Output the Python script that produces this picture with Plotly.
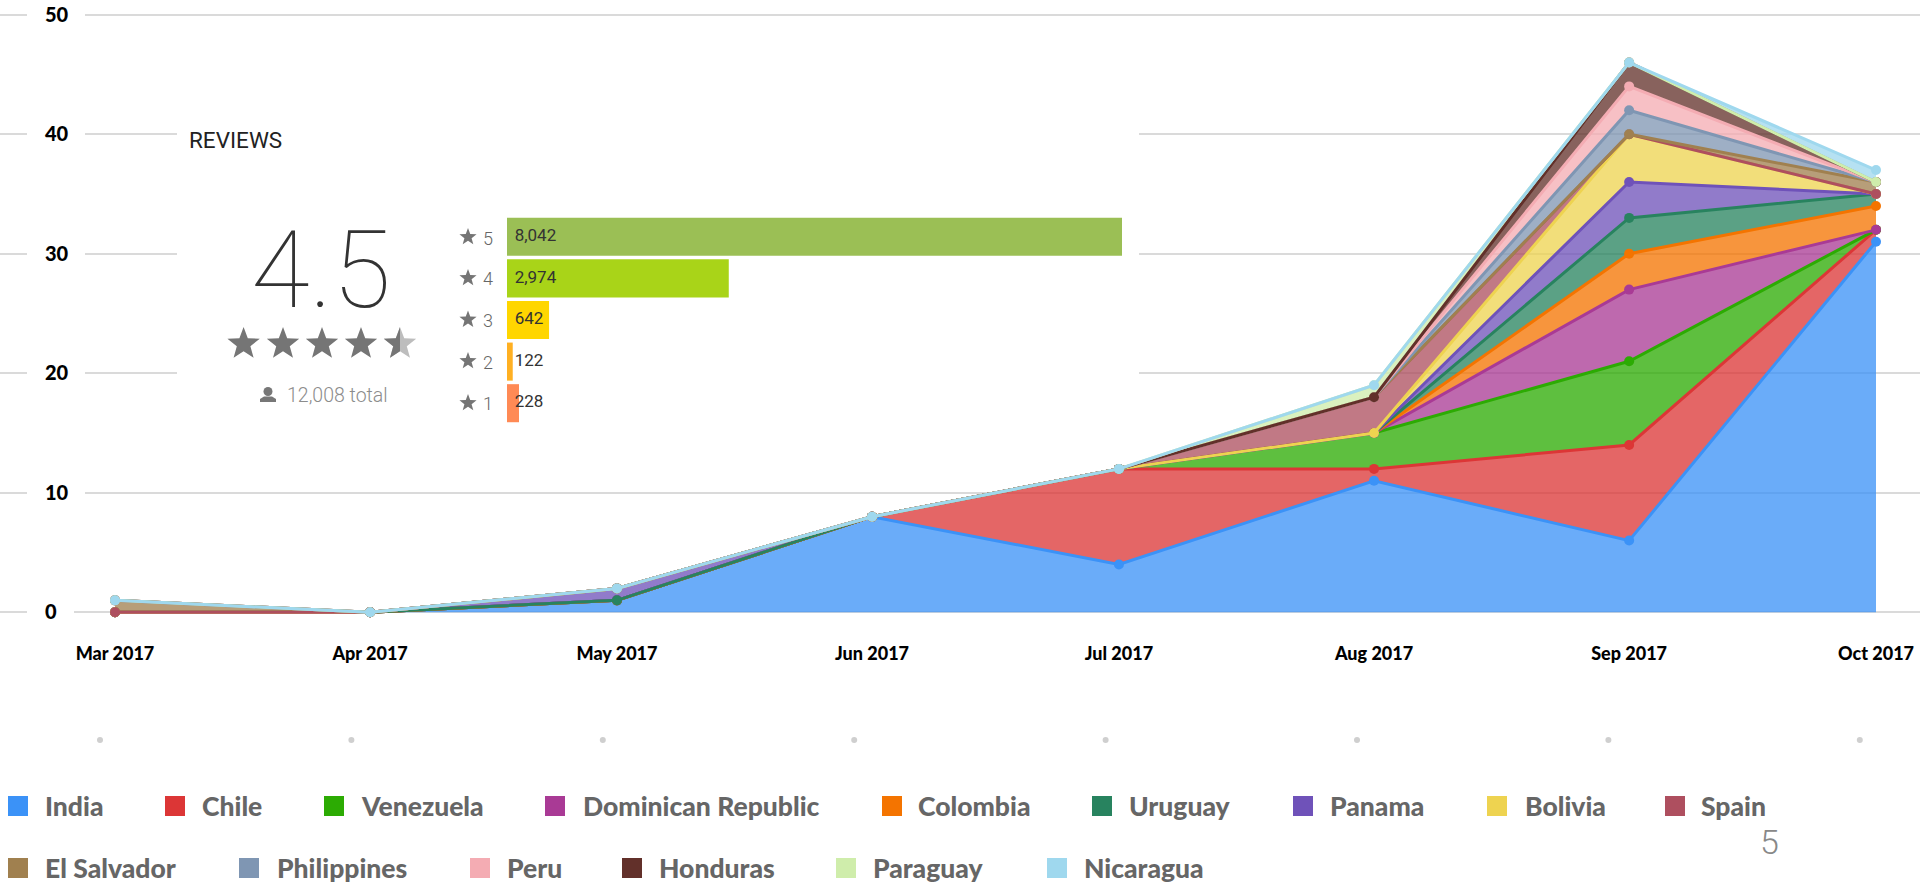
import math
import pandas as pd
import plotly.graph_objects as go

# ---------- chart data ----------
months = ["2017-03-01", "2017-04-01", "2017-05-01", "2017-06-01",
          "2017-07-01", "2017-08-01", "2017-09-01", "2017-10-01"]
month_labels = ["Mar 2017", "Apr 2017", "May 2017", "Jun 2017",
                "Jul 2017", "Aug 2017", "Sep 2017", "Oct 2017"]
y_ticks = [0, 10, 20, 30, 40, 50]

india = [0, 0, 1, 8, 4, 11, 6, 31]
chile = [0, 0, 0, 0, 8, 1, 8, 1]
venezuela = [0, 0, 0, 0, 0, 3, 7, 0]
dominican = [0, 0, 0, 0, 0, 0, 6, 0]
colombia = [0, 0, 0, 0, 0, 0, 3, 2]
uruguay = [0, 0, 0, 0, 0, 0, 3, 1]
panama = [0, 0, 1, 0, 0, 0, 3, 0]
bolivia = [0, 0, 0, 0, 0, 0, 4, 0]
spain = [0, 0, 0, 0, 0, 3, 0, 0]
el_salvador = [1, 0, 0, 0, 0, 0, 0, 1]
philippines = [0, 0, 0, 0, 0, 0, 2, 0]
peru = [0, 0, 0, 0, 0, 0, 2, 0]
honduras = [0, 0, 0, 0, 0, 0, 2, 0]
paraguay = [0, 0, 0, 0, 0, 1, 0, 0]
nicaragua = [0, 0, 0, 0, 0, 0, 0, 1]

series_names = ["India", "Chile", "Venezuela", "Dominican Republic", "Colombia", "Uruguay",
                "Panama", "Bolivia", "Spain", "El Salvador", "Philippines", "Peru",
                "Honduras", "Paraguay", "Nicaragua"]
series_values = [india, chile, venezuela, dominican, colombia, uruguay, panama, bolivia,
                 spain, el_salvador, philippines, peru, honduras, paraguay, nicaragua]
series_colors = ["#3B92F7", "#DC3636", "#2CAB03", "#A93A95", "#F47400", "#28835F", "#6F52B9",
                 "#EED350", "#AE4F5F", "#A0804F", "#7F96B3", "#F4ACB3", "#62302A", "#CFEDAB",
                 "#9FD8EE"]

# review card data
review_rows = ["5", "4", "3", "2", "1"]
review_counts = ["8,042", "2,974", "642", "122", "228"]
review_bar_lengths = [8042, 2900, 550, 75, 157]   # as drawn in the picture
review_bar_colors = ["#9BBF55", "#A9D418", "#FFD600", "#FFB022", "#FF8A55"]
pager_dots = [0, 1, 2, 3, 4, 5, 6, 7]

# ---------- layout constants (pixels in the 1920x890 page) ----------
W, H = 1920, 890
PX_MAR, PX_OCT = 115.0, 1876.0
Y0_PX, Y50_PX = 612.3, 14.7
PX_PER_UNIT = (Y0_PX - Y50_PX) / 50
PX_PER_DAY = (PX_OCT - PX_MAR) / 214.0
BASE = pd.Timestamp("2017-03-01")


def date_at(px):
    return (BASE + pd.Timedelta(days=(px - PX_MAR) / PX_PER_DAY)).strftime("%Y-%m-%d %H:%M:%S")


def val_at(py):
    return (Y0_PX - py) / PX_PER_UNIT


def fx(px):
    return px / W


def fy(py):
    return 1 - py / H


def rgba(hex_color, a):
    r, g, b = (int(hex_color[i:i + 2], 16) for i in (1, 3, 5))
    return f"rgba({r},{g},{b},{a})"


def star_points(cx, cy, r):
    pts = []
    for i in range(10):
        rad = r if i % 2 == 0 else r * 0.42
        ang = -math.pi / 2 + i * math.pi / 5
        pts.append((cx + rad * math.cos(ang), cy + rad * math.sin(ang)))
    return pts


def path_of(pts):
    return "M" + " L".join(f"{fx(x):.5f},{fy(y):.5f}" for x, y in pts) + " Z"


fig = go.Figure()

for name, vals, col in zip(series_names, series_values, series_colors):
    fig.add_trace(go.Scatter(
        x=months, y=vals, name=name, stackgroup="one", mode="lines+markers",
        line=dict(color=col, width=3), marker=dict(color=col, size=10),
        fillcolor=rgba(col, 0.76), cliponaxis=False, showlegend=False,
    ))

# review bars
fig.add_trace(go.Bar(
    x=review_bar_lengths, y=review_rows, orientation="h", xaxis="x2", yaxis="y2",
    marker=dict(color=review_bar_colors, line=dict(width=0)), showlegend=False,
))
fig.add_trace(go.Scatter(
    x=[100] * 5, y=review_rows, text=review_counts, mode="text", textposition="middle right",
    xaxis="x2", yaxis="y2", cliponaxis=False, showlegend=False,
    textfont=dict(family="Roboto", size=17, color="#333333"),
))
# pager dots
fig.add_trace(go.Scatter(
    x=pager_dots, y=[0] * 8, mode="markers", xaxis="x3", yaxis="y3", showlegend=False,
    marker=dict(color="#CFCFCF", size=6),
))

shapes = []
# white card and tick-label backings, over the grid but under the marks
shapes.append(dict(type="rect", layer="between", xref="x", yref="y",
                   x0=date_at(177), x1=date_at(1139), y0=val_at(430), y1=val_at(118),
                   fillcolor="white", line=dict(width=0)))
for t in y_ticks:
    right = 74 if t == 0 else 85
    shapes.append(dict(type="rect", layer="between", xref="x", yref="y",
                       x0=date_at(27), x1=date_at(right), y0=t - 0.4, y1=t + 0.4,
                       fillcolor="white", line=dict(width=0)))

# big rating stars
for i, cx in enumerate([243.6, 283, 322, 361, 400]):
    pts = star_points(cx, 344, 17)
    shapes.append(dict(type="path", xref="paper", yref="paper", path=path_of(pts),
                       fillcolor="#757575" if i < 4 else "#BDBDBD", line=dict(width=0)))
    if i == 4:
        half = [pts[0]] + pts[5:10]
        shapes.append(dict(type="path", xref="paper", yref="paper", path=path_of(half),
                           fillcolor="#757575", line=dict(width=0)))

# small row stars
for cy in [237, 278, 319.6, 361, 403]:
    shapes.append(dict(type="path", xref="paper", yref="paper",
                       path=path_of(star_points(468, cy, 9)),
                       fillcolor="#757575", line=dict(width=0)))

# person icon
shapes.append(dict(type="circle", xref="paper", yref="paper", x0=fx(263.5), x1=fx(272.5),
                   y0=fy(396), y1=fy(387), fillcolor="#777777", line=dict(width=0)))
shapes.append(dict(type="path", xref="paper", yref="paper",
                   path=path_of([(260, 402), (260, 399), (264, 396.5), (272, 396.5),
                                 (276, 399), (276, 402)]),
                   fillcolor="#777777", line=dict(width=0)))

annotations = []


def note(text, px, py, size, color, family="Roboto", weight=400, anchor="left"):
    annotations.append(dict(text=text, x=fx(px), y=fy(py), xref="paper", yref="paper",
                            showarrow=False, xanchor=anchor, yanchor="middle",
                            font=dict(family=family, size=size, color=color, weight=weight)))


note("REVIEWS", 187, 139.6, 22.5, "#222222")
note("4.5", 321, 270, 107, "#333333", weight=100, anchor="center")
note("12,008 total", 285, 395, 19.5, "#8C8C8C", weight=300)
for lab, cy in zip(review_rows, [238, 279, 320.6, 362, 404]):
    note(lab, 481, cy, 18, "#666666", weight=300)
note("5", 1769, 842, 34, "#888888", weight=300, anchor="center")

# legend, laid out as in the picture
legend_rows = [806] * 9 + [868] * 6
legend_swatch_x = [8, 165, 324, 545, 882, 1092, 1293, 1487, 1665,
                   8, 239, 470, 622, 836, 1047]
legend_text_x = [43, 200, 359, 581, 916, 1127, 1328, 1523, 1699,
                 43, 275, 505, 657, 871, 1082]
for name, col, sx, tx, ry in zip(series_names, series_colors, legend_swatch_x, legend_text_x, legend_rows):
    shapes.append(dict(type="rect", xref="paper", yref="paper",
                       x0=fx(sx), x1=fx(sx + 20), y0=fy(ry + 10), y1=fy(ry - 10),
                       fillcolor=col, line=dict(width=0)))
    note(name, tx, ry, 26.5, "#666666", family="Lato", weight=900)

x_tick_font = dict(family="Lato", size=18, color="#000000", weight=900)
y_tick_font = dict(family="Lato", size=20, color="#000000", weight=900)
# The y range runs past both end ticks so that the inside labels at 0 and 50 stay drawn.
Y_LOW, Y_HIGH = -1, 51.2
fig.update_layout(
    width=W, height=H, margin=dict(l=0, r=0, t=0, b=0),
    paper_bgcolor="white", plot_bgcolor="white", showlegend=False,
    barmode="overlay", bargap=0.085, hovermode=False,
    shapes=shapes, annotations=annotations,
    xaxis=dict(type="date", domain=[0, 1], range=[date_at(0), date_at(W)],
               tickmode="array", tickvals=months, ticktext=month_labels, tickfont=x_tick_font,
               ticks="outside", ticklen=13, tickcolor="rgba(0,0,0,0)", showgrid=False,
               showline=False, zeroline=False, anchor="y"),
    yaxis=dict(domain=[fy(Y0_PX - Y_LOW * PX_PER_UNIT), fy(Y0_PX - Y_HIGH * PX_PER_UNIT)],
               range=[Y_LOW, Y_HIGH], tickmode="array",
               tickvals=y_ticks, tickfont=y_tick_font, ticklabelposition="inside",
               ticks="inside", ticklen=46, tickcolor="rgba(0,0,0,0)",
               showgrid=True, gridcolor="#DADADA", gridwidth=2,
               zeroline=False, showline=False, anchor="x"),
    xaxis2=dict(domain=[fx(507), fx(1122)], range=[0, 8042], visible=False, anchor="y2"),
    yaxis2=dict(domain=[fy(424), fy(216)], type="category", categoryorder="array",
                categoryarray=review_rows[::-1], visible=False, anchor="x2"),
    xaxis3=dict(domain=[0, 1], range=[-100 / 251.4, (W - 100) / 251.4], visible=False, anchor="y3"),
    yaxis3=dict(domain=[fy(750), fy(730)], range=[-1, 1], visible=False, anchor="x3"),
)

fig.write_html("out.html", config={"displayModeBar": False},
               post_script="document.body.style.margin='0';document.body.style.overflow='hidden';")
